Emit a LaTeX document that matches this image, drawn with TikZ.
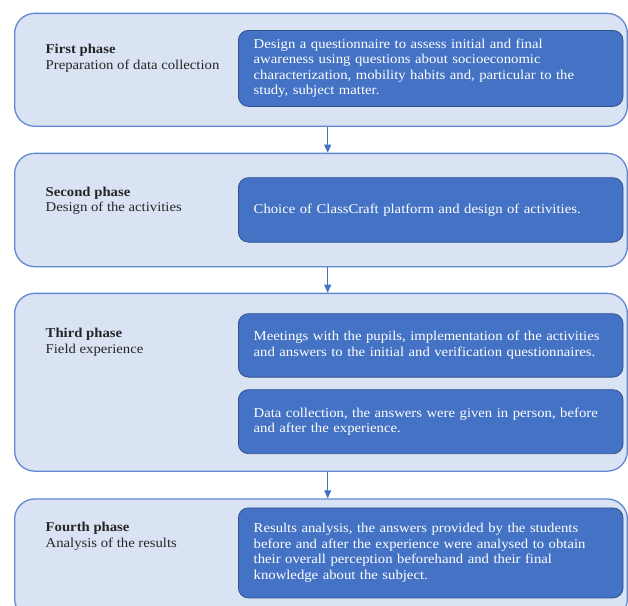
\documentclass[tikz,border=0pt]{standalone}
\usepackage{fontspec}
\setmainfont{Liberation Serif}[FakeStretch=1.09]
\usetikzlibrary{arrows.meta}
\definecolor{outerfill}{HTML}{DAE3F3}
\definecolor{outerline}{HTML}{5F8AD2}
\definecolor{innerfill}{HTML}{4472C4}
\definecolor{innerline}{HTML}{2F528F}
\newcommand{\fsz}{\fontsize{13.5}{15.5}\selectfont}
\tikzset{
  phasebox/.style={draw=outerline, fill=outerfill, line width=1.3pt, rounded corners=20pt,
    anchor=north west, minimum width=612.7pt, inner sep=0pt},
  stepbox/.style={draw=innerline, fill=innerfill, line width=0.8pt, rounded corners=10pt,
    anchor=north west, text width=354pt, inner xsep=15.3pt, inner ysep=0pt,
    align=left, text=white, font=\fsz},
  phaselabel/.style={anchor=north west, inner sep=0pt, align=left, font=\fsz, text=black!85},
  flow/.style={draw=innerfill, line width=1pt, -{Triangle[length=8pt,width=7pt]}}
}
\begin{document}
\begin{tikzpicture}[x=1pt,y=-1pt]
\useasboundingbox (0,0) rectangle (628,605);
% outer phase boxes
\node[phasebox, minimum height=112.9pt] (p1) at (14,12.7) {};
\node[phasebox, minimum height=113.3pt] (p2) at (14,152.7) {};
\node[phasebox, minimum height=177.8pt] (p3) at (14,292.7) {};
\node[phasebox, minimum height=120pt] (p4) at (14,498.3) {};
% labels
\node[phaselabel] (l1) at (45.5,42.5) {\strut\textbf{First phase}\\Preparation of data collection};
\node[phaselabel] (l2) at (45.5,185.2) {\strut\textbf{Second phase}\\Design of the activities};
\node[phaselabel] (l3) at (45.5,326.5) {\strut\textbf{Third phase}\\Field experience};
\node[phaselabel] (l4) at (45.5,520.9) {\strut\textbf{Fourth phase}\\Analysis of the results};
% inner step boxes
\node[stepbox, minimum height=76pt] (b1) at (238,30) {Design a questionnaire to assess initial and final\\awareness using questions about socioeconomic\\characterization, mobility habits and, particular to the\\study, subject matter.};
\node[stepbox, minimum height=64.4pt] (b2) at (238,177.3) {Choice of ClassCraft platform and design of activities.};
\node[stepbox, minimum height=63.4pt] (b3a) at (238,313.3) {Meetings with the pupils, implementation of the activities\\and answers to the initial and verification questionnaires.};
\node[stepbox, minimum height=64pt] (b3b) at (238,389.3) {Data collection, the answers were given in person, before\\and after the experience.};
\node[stepbox, minimum height=90pt] (b4) at (238,507.5) {Results analysis, the answers provided by the students\\before and after the experience were analysed to obtain\\their overall perception beforehand and their final\\knowledge about the subject.};
% connectors
\coordinate (ax) at (327.7,0);
\draw[flow] (p1.south -| ax) -- (p2.north -| ax);
\draw[flow] (p2.south -| ax) -- (p3.north -| ax);
\draw[flow] (p3.south -| ax) -- (p4.north -| ax);
\end{tikzpicture}
\end{document}
